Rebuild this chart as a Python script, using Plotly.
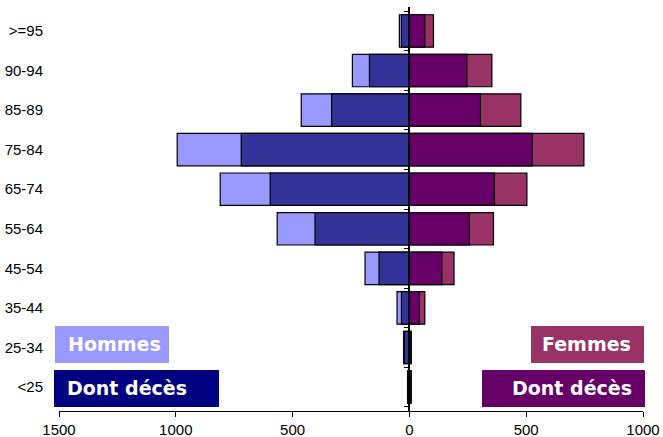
import plotly.graph_objects as go

# Age groups, bottom to top
age_groups = ["<25", "25-34", "35-44", "45-54", "55-64", "65-74", "75-84", "85-89", "90-94", ">=95"]

# Men: total and deaths among them
men_total = [8, 25, 53, 190, 566, 810, 994, 463, 244, 43]
men_deaths = [6, 22, 34, 130, 404, 596, 720, 333, 171, 34]

# Women: total and deaths among them
women_total = [8, 8, 66, 191, 360, 503, 747, 477, 353, 103]
women_deaths = [6, 6, 43, 139, 257, 364, 526, 304, 246, 66]

x_ticks = [-1500, -1000, -500, 0, 500, 1000]
x_tick_text = ["1500", "1000", "500", "0", "500", "1000"]

C_MEN = "#9999FF"
C_MEN_D = "#333399"
C_WOMEN = "#993366"
C_WOMEN_D = "#660066"
C_MEN_BOX = "#000080"

W, H = 663, 437
ML, MR, MT, MB = 59, 20, 7, 26
PW, PH = W - ML - MR, H - MT - MB

TICK_FONT = "Liberation Sans, Arial, Helvetica, sans-serif"

outline = dict(color="black", width=1.2)

fig = go.Figure()
fig.add_trace(go.Bar(y=age_groups, x=[-v for v in men_total], orientation="h",
                     marker=dict(color=C_MEN, line=outline), name="Hommes"))
fig.add_trace(go.Bar(y=age_groups, x=[-v for v in men_deaths], orientation="h",
                     marker=dict(color=C_MEN_D, line=outline), name="Hommes - décès"))
fig.add_trace(go.Bar(y=age_groups, x=women_total, orientation="h",
                     marker=dict(color=C_WOMEN, line=outline), name="Femmes"))
fig.add_trace(go.Bar(y=age_groups, x=women_deaths, orientation="h",
                     marker=dict(color=C_WOMEN_D, line=outline), name="Femmes - décès"))

# central axis carrying the boundary ticks at x = 0
fig.add_trace(go.Scatter(y=age_groups, x=[0] * len(age_groups), yaxis="y2",
                         mode="markers", marker=dict(opacity=0),
                         hoverinfo="skip", showlegend=False))


def px_x(p):
    return (p - ML) / PW


def px_y(p):
    return 1 - (p - MT) / PH


boxes = [
    # (left, top, right, bottom, colour, text, side)
    (55, 326, 169, 363, C_MEN, "Hommes", "left"),
    (54, 370, 219, 407, C_MEN_BOX, "Dont décès", "left"),
    (531, 326, 644, 363, C_WOMEN, "Femmes", "right"),
    (482, 370, 645, 407, C_WOMEN_D, "Dont décès", "right"),
]
shapes = []
annotations = []
for x0, y0, x1, y1, col, txt, side in boxes:
    shapes.append(dict(type="rect", xref="paper", yref="paper",
                       x0=px_x(x0), x1=px_x(x1), y0=px_y(y1), y1=px_y(y0),
                       fillcolor=col, line=dict(width=0), layer="above"))
    ax = px_x(x0 + 11) if side == "left" else px_x(x1 - 11)
    annotations.append(dict(xref="paper", yref="paper", x=ax, y=px_y((y0 + y1) / 2 - 1),
                            xanchor=side, yanchor="middle", text=txt, showarrow=False,
                            font=dict(family="DejaVu Sans", size=19, color="white",
                                      weight="bold")))

fig.update_layout(
    width=W, height=H,
    margin=dict(l=ML, r=MR, t=MT, b=MB, pad=0, autoexpand=False),
    paper_bgcolor="white", plot_bgcolor="white",
    barmode="overlay", bargap=0.18,
    showlegend=False,
    font=dict(family=TICK_FONT, size=15, color="black"),
    xaxis=dict(range=[-1500, 1000], tickvals=x_ticks, ticktext=x_tick_text,
               automargin=False,
               tickfont=dict(family=TICK_FONT, size=15),
               showgrid=False, zeroline=False, showline=True, linecolor="black",
               linewidth=1, ticks="outside", ticklen=5, tickcolor="black",
               ticklabelstandoff=0),
    yaxis=dict(type="category", categoryorder="array", categoryarray=age_groups,
               automargin=False,
               tickfont=dict(family=TICK_FONT, size=15),
               showgrid=False, zeroline=False, showline=False,
               ticks="outside", ticklen=12, tickcolor="rgba(0,0,0,0)"),
    yaxis2=dict(type="category", categoryorder="array", categoryarray=age_groups,
                overlaying="y", matches="y", anchor="free", position=0.6, side="left",
                automargin=False,
                showgrid=False, zeroline=False, showline=True, linecolor="black",
                linewidth=1.5, ticks="outside", ticklen=5, tickcolor="black",
                tickson="boundaries", showticklabels=False),
    shapes=shapes,
    annotations=annotations,
)

fig.write_html("out.html")
